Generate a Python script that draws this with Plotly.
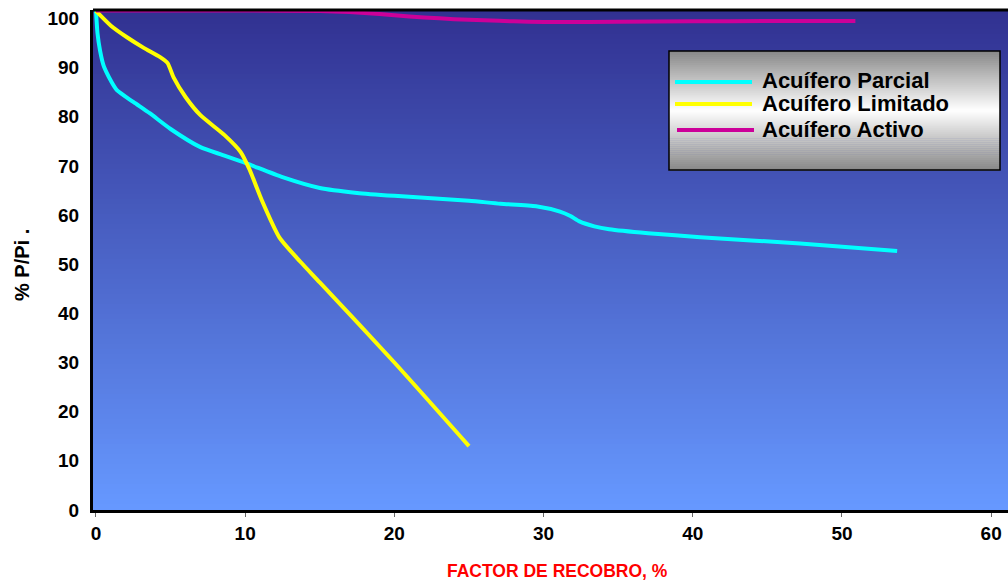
import plotly.graph_objects as go

# ---- data -------------------------------------------------------------
series_names = ["Acuífero Parcial", "Acuífero Limitado", "Acuífero Activo"]
series_colors = ["#00ffff", "#ffff00", "#cc0099"]

parcial_x = [0, 0.1, 0.27, 0.5, 0.74, 1.0, 1.4, 2.5, 3.6, 5.0, 7.0, 8.5, 10.0,
             12.5, 15.0, 17.5, 20.0, 25.0, 27.1, 29.5, 31.1, 31.8, 32.4, 33.4,
             34.4, 37.0, 40.5, 47.2, 53.7]
parcial_y = [101.5, 97.0, 93.5, 90.5, 88.8, 87.3, 85.4, 83.0, 80.7, 77.5, 73.8,
             72.2, 70.6, 67.7, 65.5, 64.5, 63.9, 62.9, 62.3, 61.8, 60.7, 59.8,
             58.7, 57.7, 57.1, 56.3, 55.5, 54.2, 52.7]

limitado_x = [0, 1.0, 2.1, 3.2, 4.3, 4.8, 5.2, 6.0, 7.0, 8.6, 9.7, 10.3, 11.1,
              12.3, 13.7, 15.0, 20.0, 25.0]
limitado_y = [101.5, 98.5, 96.1, 94.0, 92.1, 90.9, 88.0, 84.0, 80.3, 76.3, 72.8,
              69.2, 63.1, 55.4, 50.5, 46.3, 30.0, 13.0]

activo_x = [0, 5, 10, 15, 17, 19, 21, 23, 25, 27, 29, 31, 35, 40, 45, 50.9]
activo_y = [101.6, 101.6, 101.6, 101.5, 101.3, 100.9, 100.4, 100.0, 99.7, 99.5,
            99.3, 99.25, 99.3, 99.4, 99.45, 99.45]

x_ticks = [0, 10, 20, 30, 40, 50, 60]
y_ticks = [0, 10, 20, 30, 40, 50, 60, 70, 80, 90, 100]

# ---- page geometry ----------------------------------------------------
W, H = 1008, 583
ML, MR, MT, MB = 93, 0, 10, 73
PW, PH = W - ML - MR, H - MT - MB


def px(xp):
    return (xp - ML) / PW


def py(yp):
    return (H - MB - yp) / PH


def lerp(c0, c1, t):
    return "rgb(%d,%d,%d)" % tuple(round(a + (b - a) * t) for a, b in zip(c0, c1))


fig = go.Figure()

series = [(parcial_x, parcial_y), (limitado_x, limitado_y), (activo_x, activo_y)]
for (xs, ys), name, color in zip(series, series_names, series_colors):
    fig.add_trace(go.Scatter(
        x=xs, y=ys, name=name, mode="lines",
        line=dict(color=color, width=4, shape="spline", smoothing=0.6),
        showlegend=False, hoverinfo="skip",
    ))

shapes = []

# vertical blue gradient behind the plot area
top_c, bot_c = (49, 49, 145), (102, 152, 255)
n = 100
for i in range(n):
    t = i / (n - 1)
    shapes.append(dict(
        type="rect", xref="x domain", yref="y domain",
        x0=0, x1=1, y0=1 - (i + 1) / n, y1=1 - i / n + 0.002,
        fillcolor=lerp(top_c, bot_c, t), line=dict(width=0), layer="below",
    ))

# top border of the plot frame
shapes.append(dict(type="line", xref="x domain", yref="y domain",
                   x0=0, x1=1, y0=1, y1=1, line=dict(color="black", width=3)))

# legend box with grey-white-grey gradient
lb_l, lb_t, lb_r, lb_b = 669, 51, 1000, 170
grey, white = (136, 136, 136), (255, 255, 255)
m = 60
for i in range(m):
    t = (i + 0.5) / m
    k = 1 - abs(t - 0.5) * 2
    y_top = lb_t + (lb_b - lb_t) * i / m
    y_bot = lb_t + (lb_b - lb_t) * (i + 1) / m + 0.6
    shapes.append(dict(
        type="rect", xref="paper", yref="paper",
        x0=px(lb_l), x1=px(lb_r), y0=py(y_bot), y1=py(y_top),
        fillcolor=lerp(grey, white, k), line=dict(width=0), layer="above",
    ))
shapes.append(dict(type="rect", xref="paper", yref="paper",
                   x0=px(lb_l), x1=px(lb_r), y0=py(lb_b), y1=py(lb_t),
                   line=dict(color="black", width=1.5), layer="above"))

annotations = []
item_rows = [(82, 80), (104, 104), (130, 129)]
sample_x = [(675, 752), (675, 752), (677, 754)]
for name, color, (ly, ty), (sx0, sx1) in zip(series_names, series_colors, item_rows, sample_x):
    shapes.append(dict(type="line", xref="paper", yref="paper",
                       x0=px(sx0), x1=px(sx1), y0=py(ly), y1=py(ly),
                       line=dict(color=color, width=4), layer="above"))
    annotations.append(dict(
        text=name, xref="paper", yref="paper", x=px(760), y=py(ty),
        xanchor="left", yanchor="middle", showarrow=False,
        font=dict(family="Arial, Liberation Sans", size=22, color="black", weight="bold"),
    ))

# axis titles
annotations.append(dict(
    text="% P/Pi .", xref="paper", yref="paper", x=px(22), y=py(265),
    xanchor="center", yanchor="middle", textangle=-90, showarrow=False,
    font=dict(family="Arial, Liberation Sans", size=20, color="black", weight="bold"),
))
annotations.append(dict(
    text="FACTOR DE RECOBRO, %", xref="paper", yref="paper", x=px(557), y=py(571),
    xanchor="center", yanchor="middle", showarrow=False,
    font=dict(family="Arial, Liberation Sans", size=17.5, color="#ff0000", weight="bold"),
))

tick_font = dict(family="Arial, Liberation Sans", size=19, color="black", weight="bold")

fig.update_layout(
    width=W, height=H,
    margin=dict(l=ML, r=MR, t=MT, b=MB, autoexpand=False),
    paper_bgcolor="white", plot_bgcolor="rgba(0,0,0,0)",
    shapes=shapes, annotations=annotations,
    xaxis=dict(range=[-0.2, 61.13], tickvals=x_ticks, showgrid=False, zeroline=False,
               showline=True, linecolor="black", linewidth=3,
               ticks="outside", ticklen=4, tickcolor="#666", tickwidth=1,
               tickfont=tick_font, ticklabelstandoff=0, fixedrange=True),
    yaxis=dict(range=[0, 101.7], tickvals=y_ticks, showgrid=False, zeroline=False,
               showline=True, linecolor="black", linewidth=3,
               ticks="", tickfont=tick_font, ticklabelstandoff=7, fixedrange=True),
)

fig.write_html("out.html")
